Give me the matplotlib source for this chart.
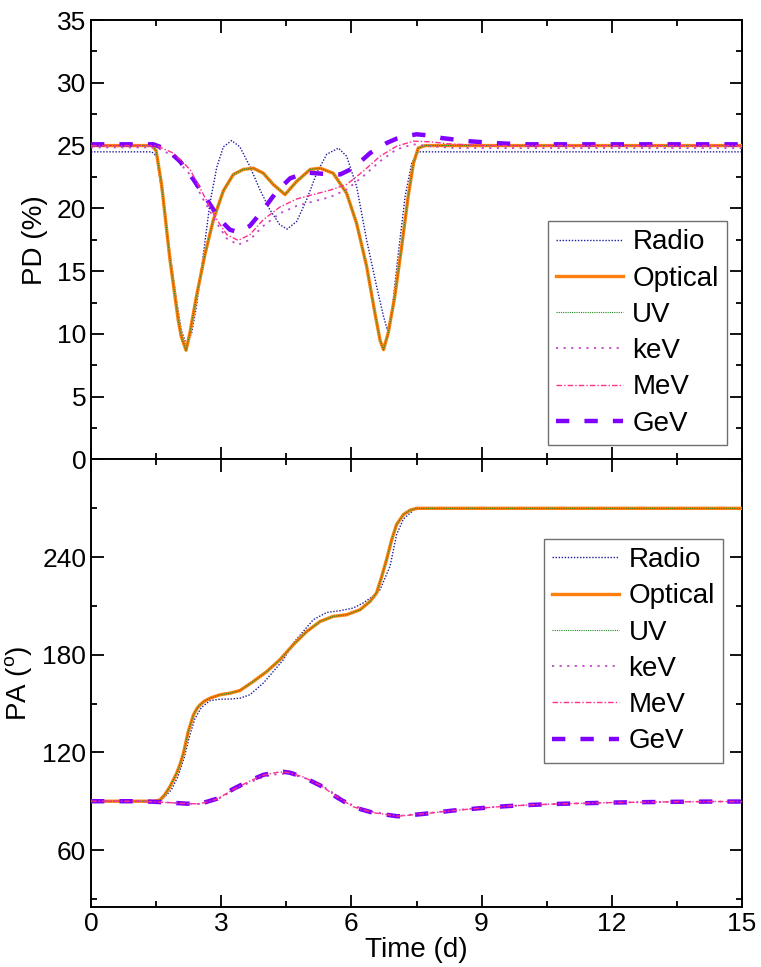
import matplotlib
matplotlib.use("Agg")
import matplotlib.pyplot as plt
from matplotlib import font_manager
from matplotlib.ticker import MultipleLocator, FixedLocator

# ---------------- data ----------------
# Polarization degree (%) versus time (d)
t_optical_pd = [0, 1.40, 1.50, 1.63, 1.82, 2.01, 2.08, 2.19, 2.28, 2.43, 2.63, 2.82, 3.05,
                3.28, 3.51, 3.74, 3.97, 4.20, 4.47, 4.74, 5.05, 5.28, 5.58, 5.89, 6.12,
                6.35, 6.54, 6.66, 6.74, 6.85, 7.00, 7.16, 7.31, 7.43, 7.54, 7.70, 15]
optical_pd = [25.0, 25.0, 24.6, 21.8, 15.9, 11.1, 9.8, 8.7, 10.1, 13.0, 16.4, 19.1, 21.4,
              22.7, 23.1, 23.2, 22.8, 21.9, 21.1, 22.15, 23.1, 23.2, 22.8, 21.2, 18.8,
              15.4, 11.7, 9.5, 8.75, 10.1, 13.0, 17.0, 21.0, 23.6, 24.8, 25.0, 25.0]
t_uv_pd = list(t_optical_pd)
uv_pd = list(optical_pd)

t_radio_pd = [0, 1.40, 1.51, 1.67, 1.82, 1.97, 2.08, 2.20, 2.32, 2.43, 2.59, 2.74, 2.90,
              3.05, 3.24, 3.43, 3.66, 3.89, 4.12, 4.35, 4.52, 4.74, 4.97, 5.20, 5.43,
              5.70, 5.89, 6.12, 6.35, 6.58, 6.74, 6.83, 6.93, 7.08, 7.24, 7.39, 7.54, 15]
radio_pd = [24.5, 24.5, 24.15, 20.4, 16.4, 12.7, 10.3, 9.1, 10.1, 12.2, 16.4, 20.4, 23.3,
            24.9, 25.4, 24.9, 23.35, 21.5, 19.9, 18.7, 18.35, 18.96, 20.7, 22.8, 24.3,
            24.8, 24.15, 21.75, 17.5, 13.8, 11.4, 10.3, 11.65, 16.4, 21.0, 23.6, 24.5, 24.5]

t_kev_pd = [0, 1.50, 1.60, 1.90, 2.28, 2.59, 2.90, 3.13, 3.39, 3.66, 3.97, 4.35, 4.74,
            5.12, 5.51, 5.89, 6.27, 6.66, 7.04, 7.43, 7.81, 8.40, 15]
kev_pd = [24.85, 24.85, 24.7, 24.15, 22.7, 20.7, 18.8, 17.6, 17.1, 17.5, 18.6, 19.6, 20.2,
          20.55, 20.9, 21.5, 22.55, 23.75, 24.7, 25.1, 24.95, 24.8, 24.8]

t_mev_pd = [0, 1.50, 1.90, 2.28, 2.59, 2.90, 3.13, 3.39, 3.66, 3.97, 4.35, 4.74, 5.12,
            5.51, 5.89, 6.27, 6.66, 7.04, 7.43, 7.81, 8.20, 9.00, 15]
mev_pd = [25.0, 25.0, 24.4, 23.1, 21.1, 19.1, 17.9, 17.45, 17.9, 19.1, 20.1, 20.75, 21.1,
          21.45, 21.9, 22.95, 24.15, 24.95, 25.35, 25.3, 25.15, 25.0, 25.0]

t_gev_pd = [0, 1.44, 1.74, 2.05, 2.36, 2.67, 2.97, 3.20, 3.39, 3.66, 3.97, 4.28, 4.59,
            4.97, 5.35, 5.74, 6.04, 6.43, 6.81, 7.04, 7.27, 7.50, 7.80, 8.08, 8.69,
            9.31, 9.90, 15]
gev_pd = [25.1, 25.1, 24.7, 23.75, 22.3, 20.7, 19.1, 18.3, 18.1, 18.6, 19.9, 21.35, 22.4,
          22.85, 22.75, 22.7, 23.2, 24.4, 25.2, 25.55, 25.75, 25.9, 25.8, 25.6, 25.35,
          25.2, 25.1, 25.1]

# Polarization angle (deg) versus time (d)
t_optical_pa = [0, 1.45, 1.59, 1.70, 1.82, 1.97, 2.05, 2.13, 2.24, 2.36, 2.45, 2.51, 2.62,
                2.74, 2.97, 3.20, 3.43, 3.74, 4.05, 4.35, 4.66, 4.97, 5.28, 5.58, 5.89,
                6.20, 6.43, 6.58, 6.70, 6.81, 6.93, 7.04, 7.20, 7.35, 7.50, 15]
optical_pa = [90, 90, 90.8, 94, 99, 107, 112.5, 119.5, 132.8, 143, 147.3, 149.2, 151.6,
              153.3, 155.4, 156.4, 158, 163.6, 169.7, 176.9, 186.2, 194.3, 200.5, 203.6,
              204.6, 207.7, 212.8, 218, 228.2, 238.5, 250.8, 260, 266.2, 268.8, 270, 270]
t_uv_pa = list(t_optical_pa)
uv_pa = list(optical_pa)

t_radio_pa = [0, 1.50, 1.62, 1.85, 2.00, 2.15, 2.27, 2.39, 2.54, 2.74, 2.97, 3.20, 3.43,
              3.66, 3.97, 4.20, 4.43, 4.66, 4.89, 5.12, 5.43, 5.74, 6.04, 6.27, 6.50,
              6.66, 6.89, 7.04, 7.20, 7.43, 7.60, 15]
radio_pa = [90, 90, 90.5, 97, 105, 117, 130, 140.5, 147.5, 151.8, 152.7, 152.8, 153.3,
            155.4, 162.6, 169.7, 176.9, 187.2, 194.3, 201.5, 206, 207.1, 208.7, 211.8, 216,
            220, 234.4, 253.8, 263.5, 268.8, 270, 270]

t_gev_pa = [0, 1.13, 1.50, 1.90, 2.20, 2.51, 2.90, 3.28, 3.66, 3.97, 4.28, 4.43, 4.59,
            4.89, 5.28, 5.66, 6.04, 6.50, 7.04, 7.12, 7.66, 8.35, 8.96, 9.58, 10.19,
            10.81, 11.42, 12.03, 12.65, 13.26, 14.34, 15]
gev_pa = [90, 90, 89.6, 89.0, 88.5, 88.4, 91.5, 97.6, 102.7, 106.2, 107.9, 108.1, 107.5,
          104.8, 99.7, 92.5, 86.4, 82.9, 80.8, 80.8, 82.2, 84.3, 85.7, 87.0, 87.8,
          88.4, 88.8, 89.2, 89.4, 89.6, 89.8, 89.8]

t_mev_pa = list(t_gev_pa)
mev_pa = [90, 90, 89.6, 89.0, 88.5, 88.4, 91.3, 97.2, 102.4, 106.0, 107.7, 107.9, 107.4,
          104.9, 99.9, 92.8, 86.6, 83.0, 80.9, 80.9, 82.3, 84.3, 85.7, 87.0, 87.8,
          88.4, 88.8, 89.2, 89.4, 89.6, 89.8, 89.8]

t_kev_pa = list(t_gev_pa)
kev_pa = [90, 90, 89.6, 89.0, 88.5, 88.3, 91.0, 96.7, 101.6, 105.0, 106.6, 106.9, 106.6,
          104.6, 100.4, 93.6, 87.3, 83.4, 81.2, 81.1, 82.4, 84.4, 85.8, 87.0, 87.8,
          88.4, 88.8, 89.2, 89.4, 89.6, 89.8, 89.8]

band_labels = ["Radio", "Optical", "UV", "keV", "MeV", "GeV"]

# ---------------- style ----------------
installed = {f.name for f in font_manager.fontManager.ttflist}
base_font = "Liberation Sans"
narrow_font = "Liberation Sans Narrow" if "Liberation Sans Narrow" in installed else base_font
plt.rcParams["font.family"] = [base_font, "DejaVu Sans"]
plt.rcParams["mathtext.fontset"] = "custom"
plt.rcParams["mathtext.rm"] = base_font
plt.rcParams["mathtext.it"] = base_font

styles = {
    "Radio":   dict(color="#1c1c9c", lw=1.0, ls=(0, (1.0, 1.2)), zorder=2),
    "Optical": dict(color="#ff7f0e", lw=2.4, ls="-", zorder=3),
    "UV":      dict(color="#1a8a1a", lw=0.8, ls=(0, (1.0, 1.0)), zorder=4),
    "keV":     dict(color="#c04ac8", lw=1.3, ls=(0, (1.2, 3.0)), zorder=5),
    "MeV":     dict(color="#ff2f8c", lw=1.0, ls=(0, (4.0, 1.5, 1.0, 1.5)), zorder=7),
    "GeV":     dict(color="#8000ff", lw=3.2, ls=(0, (3.0, 3.4)), zorder=6),
}

fig = plt.figure(figsize=(7.61, 9.67), dpi=100)
left, right = 91 / 761, 742 / 761
ax1 = fig.add_axes([left, 1 - 459.5 / 967, right - left, 439.5 / 967])
ax2 = fig.add_axes([left, 1 - 907 / 967, right - left, 447.5 / 967])

pd_series = {
    "Radio": (t_radio_pd, radio_pd), "Optical": (t_optical_pd, optical_pd),
    "UV": (t_uv_pd, uv_pd), "keV": (t_kev_pd, kev_pd),
    "MeV": (t_mev_pd, mev_pd), "GeV": (t_gev_pd, gev_pd),
}
pa_series = {
    "Radio": (t_radio_pa, radio_pa), "Optical": (t_optical_pa, optical_pa),
    "UV": (t_uv_pa, uv_pa), "keV": (t_kev_pa, kev_pa),
    "MeV": (t_mev_pa, mev_pa), "GeV": (t_gev_pa, gev_pa),
}

for ax, series in ((ax1, pd_series), (ax2, pa_series)):
    for name in band_labels:
        t, v = series[name]
        st = styles[name]
        ax.plot(t, v, color=st["color"], lw=st["lw"], linestyle=st["ls"],
                zorder=st["zorder"], label=name, solid_joinstyle="round")

tick_font = dict(family=[narrow_font, "DejaVu Sans"], size=19)

for ax in (ax1, ax2):
    ax.set_xlim(0, 15)
    ax.xaxis.set_major_locator(MultipleLocator(3))
    ax.xaxis.set_minor_locator(MultipleLocator(1.5))
    ax.tick_params(which="both", direction="in", top=True, right=True, width=1.3)
    ax.tick_params(which="major", length=9)
    ax.tick_params(which="minor", length=4.5)
    for sp in ax.spines.values():
        sp.set_linewidth(1.4)

ax1.set_ylim(0, 35)
ax1.yaxis.set_major_locator(MultipleLocator(5))
ax1.yaxis.set_minor_locator(MultipleLocator(2.5))
ax1.tick_params(labelbottom=False)

ax2.set_ylim(25, 300)
ax2.yaxis.set_major_locator(FixedLocator([60, 120, 180, 240, 300]))
ax2.yaxis.set_minor_locator(FixedLocator([30, 90, 150, 210, 270]))

for ax in (ax1, ax2):
    for lab in ax.get_xticklabels() + ax.get_yticklabels():
        lab.set_fontfamily([narrow_font, "DejaVu Sans"])
        lab.set_fontsize(19)
ax2.set_yticks([60, 120, 180, 240, 300])
ax2.set_yticklabels(["60", "120", "180", "240", ""], **tick_font)

ax1.set_ylabel("PD (%)", fontsize=20, labelpad=6)
ax2.set_ylabel(r"PA ($^{\mathrm{o}}$)", fontsize=20, labelpad=6)
ax2.set_xlabel("Time (d)", fontsize=20, labelpad=1)

leg_kw = dict(fontsize=20, frameon=True, fancybox=False, framealpha=1,
              edgecolor="#707070", handlelength=2.4, handletextpad=0.35,
              labelspacing=0.37, borderpad=0.3, borderaxespad=0)
l1 = ax1.legend(loc="lower right", bbox_to_anchor=(0.977, 0.033), **leg_kw)
l2 = ax2.legend(loc="upper right", bbox_to_anchor=(0.971, 0.823), **leg_kw)
for leg in (l1, l2):
    leg.get_frame().set_linewidth(1.0)

fig.savefig("out.png", dpi=100)
